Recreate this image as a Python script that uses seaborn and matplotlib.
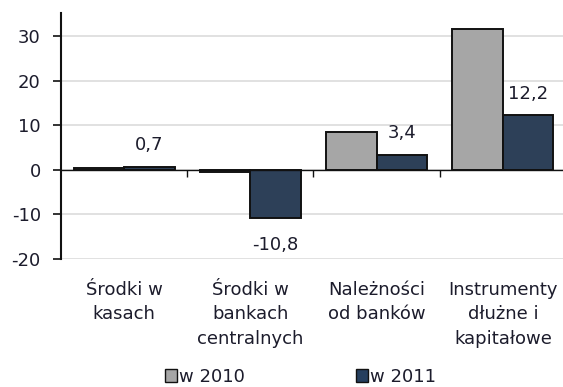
import matplotlib
matplotlib.use("Agg")
import matplotlib.pyplot as plt
from matplotlib.patches import Patch
from matplotlib.ticker import FixedLocator
import seaborn as sns
import pandas as pd

categories = ["Środki w\nkasach", "Środki w\nbankach\ncentralnych",
              "Należności\nod banków", "Instrumenty\ndłużne i\nkapitałowe"]
series_names = ["w 2010", "w 2011"]
values_2010 = [0.4, -0.5, 8.4, 31.6]
values_2011 = [0.7, -10.8, 3.4, 12.2]
value_labels_2011 = ["0,7", "-10,8", "3,4", "12,2"]
y_ticks = [-20, -10, 0, 10, 20, 30]

colors = ["#A6A6A6", "#263F5F"]
text_color = "#1c1c2c"
dark = "#111111"

sns.set_theme(style="white")
plt.rcParams["font.family"] = ["DejaVu Sans"]

df = pd.DataFrame({
    "kategoria": categories * 2,
    "seria": [series_names[0]] * 4 + [series_names[1]] * 4,
    "wartosc": values_2010 + values_2011,
})

W, H = 563, 387
fig = plt.figure(figsize=(W / 100, H / 100), dpi=100)
# plot area: left spine at x=61 px, last category runs slightly past the right edge
ax = fig.add_axes([61 / W, 1 - 259 / H, (566 - 61) / W, (259 - 12.7) / H])

sns.barplot(data=df, x="kategoria", y="wartosc", hue="seria", order=categories,
            hue_order=series_names, palette=colors, edgecolor=dark,
            linewidth=1.4, width=0.8, ax=ax, legend=False, zorder=3)

ax.set_xlim(-0.5, 3.5)
ax.set_ylim(-20, 35.2)
ax.set_yticks(y_ticks)
ax.set_yticklabels([str(t) for t in y_ticks])
ax.yaxis.grid(True, color="#D9D9D9", linewidth=1.1, zorder=0)
ax.set_axisbelow(True)
ax.set_xlabel("")
ax.set_ylabel("")

for side in ["top", "right"]:
    ax.spines[side].set_visible(False)
ax.spines["left"].set_color(dark)
ax.spines["left"].set_linewidth(1.5)
ax.spines["bottom"].set_position(("data", 0))
ax.spines["bottom"].set_color(dark)
ax.spines["bottom"].set_linewidth(1.0)
ax.spines["bottom"].set_zorder(4)

ax.tick_params(axis="y", which="major", direction="out", length=5.5, width=1.2,
               color=dark, left=True, labelsize=13, labelcolor=text_color, pad=9)
ax.tick_params(axis="x", which="major", length=0, labelsize=13,
               labelcolor=text_color, pad=80)
ax.xaxis.set_minor_locator(FixedLocator([0.5, 1.5, 2.5]))
ax.tick_params(axis="x", which="minor", direction="out", length=5, width=1.0,
               color=dark, bottom=True)
for lbl in ax.get_xticklabels():
    lbl.set_linespacing(1.46)
    lbl.set_verticalalignment("top")

# value labels for the 2011 series
bars_2011 = ax.containers[1]
for rect, val, txt in zip(bars_2011, values_2011, value_labels_2011):
    xc = rect.get_x() + rect.get_width() / 2
    off = 15.5 if val >= 0 else -19.5
    ax.annotate(txt, (xc, val), xytext=(0, off), textcoords="offset points",
                ha="center", va="center", fontsize=13, color=text_color)

handles = [Patch(facecolor=c, edgecolor=dark, linewidth=1.0) for c in colors]
fig.legend(handles, series_names, loc="center", bbox_to_anchor=(300.5 / W, 1 - 377 / H),
           ncol=2, frameon=False, fontsize=13, handlelength=0.7, handleheight=0.7,
           handletextpad=0.12, columnspacing=6.1, labelcolor=text_color,
           borderpad=0, borderaxespad=0)

fig.savefig("out.png", dpi=100)
